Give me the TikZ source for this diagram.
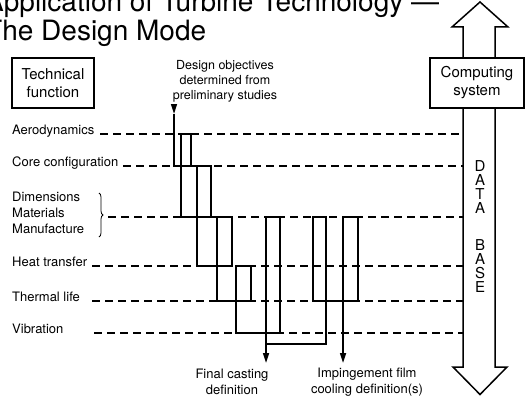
\documentclass[tikz,border=0pt]{standalone}
\usepackage{fontspec}
\setmainfont{TeX Gyre Heros}
\usetikzlibrary{arrows.meta, decorations.pathreplacing}
\newcommand\diagtitlefont{\fontsize{28}{29}\selectfont}
\newcommand\diaglabelfont{\fontsize{13}{16}\selectfont}
\newcommand\diagnotefont{\fontsize{12.5}{15}\selectfont}
\newcommand\diagboxfont{\fontsize{15}{18}\selectfont}
\newcommand\diagdbfont{\fontsize{15}{14}\selectfont}

\begin{document}
\begin{tikzpicture}[
    x=1pt, y=-1pt,
    >={Triangle[width=6pt,length=10pt]},
    % Boxes and labels
    sysbox/.style={rectangle, draw=black, line width=1.5pt, fill=white, align=center, inner sep=0pt, font=\diagboxfont},
    rowlabel/.style={anchor=base west, inner sep=0pt, font=\diaglabelfont},
    note/.style={align=center, inner sep=0pt, font=\diaglabelfont},
    % Line styles
    flow/.style={line width=1.6pt},
    rowline/.style={line width=1.4pt, dash pattern=on 8pt off 5pt},
    dbarrow/.style={line width=1.5pt, line join=miter}
]
\useasboundingbox (0,0) rectangle (525,396);

% --- Heading (its left edge runs off the page) ---
\node[anchor=base west, align=left, inner sep=0pt, font=\diagtitlefont] (title) at (-15,41) {Application of Turbine Technology ---\\The Design Mode};

% --- Column heads ---
\node[sysbox, minimum width=82pt, minimum height=50pt] (technical) at (53,83) {Technical\\function};
\node[sysbox, minimum width=94pt, minimum height=50pt] (computing) at (477,83) {Computing\\system};
\node[note, font=\diagnotefont] (objectives) at (225,81) {Design objectives\\determined from\\preliminary studies};

% --- Row labels ---
\node[rowlabel] (aero) at (12,134) {Aerodynamics};
\node[rowlabel] (core) at (12,166) {Core configuration};
\node[rowlabel, anchor=west, align=left] (dims) at (12,212.5) {Dimensions\\Materials\\Manufacture};
\node[rowlabel] (heat) at (12,266) {Heat transfer};
\node[rowlabel] (thermal) at (12,301) {Thermal life};
\node[rowlabel] (vib) at (12,333) {Vibration};

\draw[line width=0.8pt, decorate, decoration={brace, amplitude=4pt}] (99,193) -- (99,237);
\coordinate (dimsrow) at (108,217);

% --- Data base arrow ---
\coordinate (dbL) at (463,0);
\coordinate (dbR) at (495,0);
\draw[dbarrow] (dbL |- computing.north) -- (463,27) -- (452,27) -- (480,2) -- (508,27) -- (495,27) -- (dbR |- computing.north);
\draw[dbarrow] (dbL |- computing.south) -- (463,367) -- (453,367) -- (480,394.5) -- (507,367) -- (495,367) -- (dbR |- computing.south);
\node[anchor=north, align=center, inner sep=0pt, font=\diagdbfont] (dbtext) at (480,160) {D\\A\\T\\A\\[23pt]B\\A\\S\\E};

% --- Row lines ---
\draw[rowline] (100,134) -- (dbL |- aero.base);
\draw[rowline] (123,166) -- (dbL |- core.base);
\draw[rowline] (dimsrow) -- (dbL |- dimsrow);
\draw[rowline] (92,266) -- (dbL |- heat.base);
\draw[rowline] (92,301) -- (dbL |- thermal.base);
\draw[rowline] (94,333) -- (dbL |- vib.base);

% --- Design steps ---
\coordinate (objStart) at (174,104);
\coordinate (objHead) at (174,114);
\coordinate (coreEntry) at (174,166);
\draw[flow, ->] (objStart) -- (objHead);
\draw[flow] (objHead) -- (coreEntry) -- (191,166);
\draw[flow] (181,134) rectangle (191,166);
\draw[flow] (181,166) -- (181,217) -- (211,217);
\draw[flow] (197,166) rectangle (211,217);
\draw[flow] (197,217) -- (197,266) -- (232,266);
\draw[flow] (217,217) rectangle (232,266);
\draw[flow] (217,266) -- (217,301) -- (251,301);
\draw[flow] (236,266) rectangle (251,301);
\draw[flow] (236,301) -- (236,333) -- (280,333);
\draw[flow] (266,217) rectangle (280,333);

% impingement loops
\draw[flow] (313,217) rectangle (326,301);
\draw[flow] (343,217) rectangle (358,301);
\draw[flow] (326,301) -- (343,301);
\draw[flow] (326,301) -- (326,344) -- (266,344);

% --- Outputs ---
\node[note] (casting) at (232,382) {Final casting\\definition};
\node[note] (cooling) at (367,382) {Impingement film\\cooling definition(s)};
\coordinate (castTip) at (266,363);
\coordinate (coolTip) at (343,363);
\draw[flow, ->] (266,333) -- (castTip);
\draw[flow, ->] (343,301) -- (coolTip);

\end{tikzpicture}
\end{document}
